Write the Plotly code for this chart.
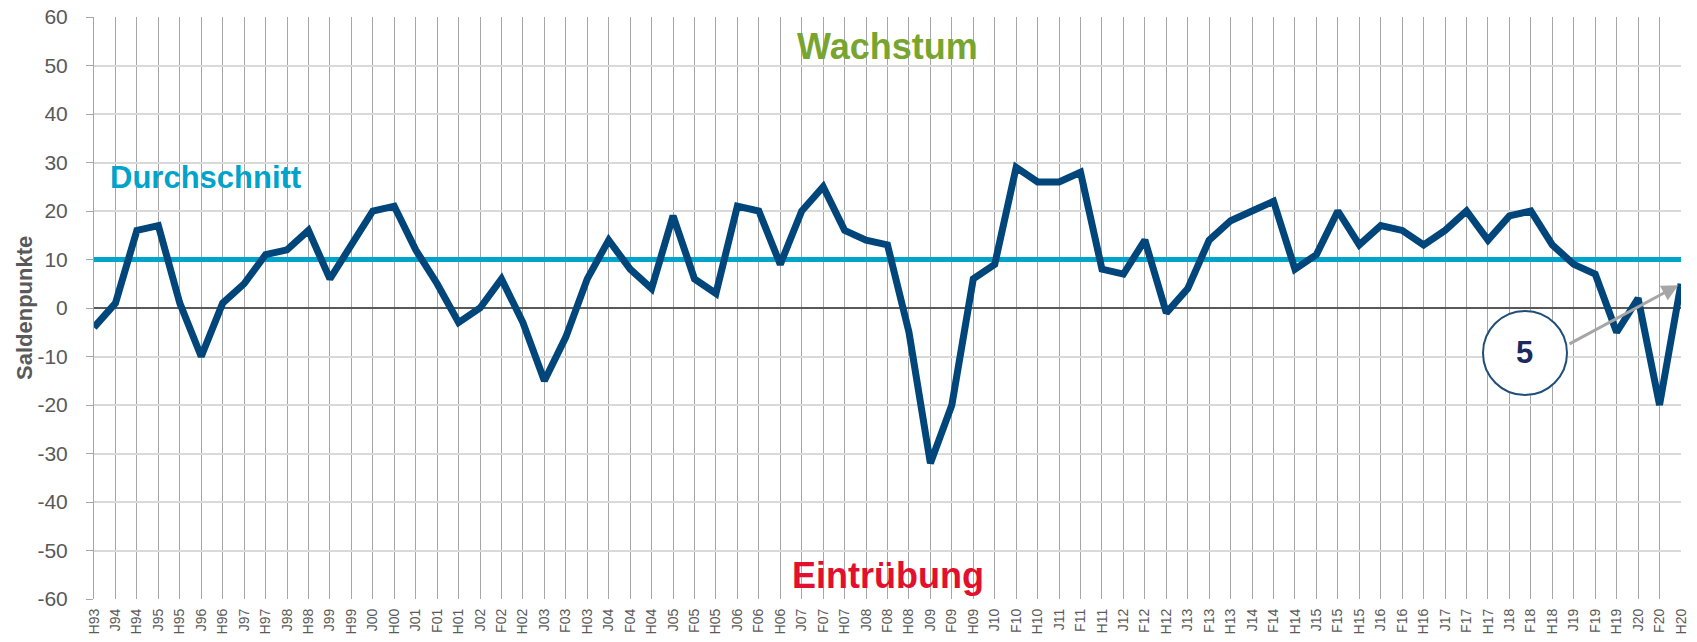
import plotly.graph_objects as go

# ---- data ----
categories = [
    "H93", "J94", "H94", "J95", "H95", "J96", "H96", "J97", "H97", "J98", "H98", "J99", "H99",
    "J00", "H00", "J01", "F01", "H01", "J02", "F02", "H02", "J03", "F03", "H03", "J04", "F04",
    "H04", "J05", "F05", "H05", "J06", "F06", "H06", "J07", "F07", "H07", "J08", "F08", "H08",
    "J09", "F09", "H09", "J10", "F10", "H10", "J11", "F11", "H11", "J12", "F12", "H12", "J13",
    "F13", "H13", "J14", "F14", "H14", "J15", "F15", "H15", "J16", "F16", "H16", "J17", "F17",
    "H17", "J18", "F18", "H18", "J19", "F19", "H19", "J20", "F20", "H20",
]
saldenpunkte = [
    -4, 1, 16, 17, 1, -10, 1, 5, 11, 12, 16, 6, 13,
    20, 21, 12, 5, -3, 0, 6, -3, -15, -6, 6, 14, 8,
    4, 19, 6, 3, 21, 20, 9, 20, 25, 16, 14, 13, -5,
    -32, -20, 6, 9, 29, 26, 26, 28, 8, 7, 14, -1, 4,
    14, 18, 20, 22, 8, 11, 20, 13, 17, 16, 13, 16, 20,
    14, 19, 20, 13, 9, 7, -5, 2, -20, 5,
]
durchschnitt_wert = 10
durchschnitt = [durchschnitt_wert] * len(categories)
y_ticks = [60, 50, 40, 30, 20, 10, 0, -10, -20, -30, -40, -50, -60]
y_ticktext = ["60", "50", "40", "30", "20", "10", "0", "-10", "-20", "-30", "-40", "-50", "-60"]
letzter_wert_label = "5"

FONT = "Liberation Sans, Arial, sans-serif"
GREY_TXT = "#595959"

fig = go.Figure()
fig.add_trace(go.Scatter(
    x=categories, y=durchschnitt, mode="lines",
    line=dict(color="#00A3CA", width=5), hoverinfo="skip", showlegend=False,
))
fig.add_trace(go.Scatter(
    x=categories, y=saldenpunkte, mode="lines",
    line=dict(color="#00467A", width=7), showlegend=False,
))

fig.update_layout(
    width=1697, height=642,
    margin=dict(l=94, r=16, t=17, b=43, autoexpand=False),
    paper_bgcolor="white", plot_bgcolor="white",
    font=dict(family=FONT, color=GREY_TXT),
    xaxis=dict(
        type="category", range=[0, len(categories) - 1], automargin=False,
        showgrid=True, gridcolor="#A6A6A6", gridwidth=1,
        tickangle=-90, tickfont=dict(size=14, color=GREY_TXT),
        ticks="", showline=False, zeroline=False,
        ticklabelstandoff=6,
    ),
    yaxis=dict(
        range=[-60, 60], tickvals=y_ticks, ticktext=y_ticktext, automargin=False,
        showgrid=True, gridcolor="#D9D9D9", gridwidth=1.5,
        zeroline=True, zerolinecolor="#595959", zerolinewidth=2,
        ticks="outside", ticklen=7, tickcolor="#A6A6A6",
        showline=True, linecolor="#A6A6A6", linewidth=1,
        tickfont=dict(size=21, color=GREY_TXT),
        ticklabelstandoff=14,
    ),
)

# Axis title
fig.add_annotation(xref="paper", yref="paper", x=-70 / 1587, y=0.5, text="<b>Saldenpunkte</b>",
                   textangle=-90, showarrow=False, font=dict(size=22, color=GREY_TXT),
                   xanchor="center", yanchor="middle")

# Text labels
fig.add_annotation(xref="paper", yref="y", x=0.5, y=54, text="<b>Wachstum</b>",
                   showarrow=False, font=dict(size=36, color="#77A52F"),
                   xanchor="center", yanchor="middle")
fig.add_annotation(xref="paper", yref="y", x=0.5, y=-55.2, text="<b>Eintrübung</b>",
                   showarrow=False, font=dict(size=36, color="#E2102E"),
                   xanchor="center", yanchor="middle")
fig.add_annotation(xref="paper", yref="y", x=0.0088, y=27, text="<b>Durchschnitt</b>",
                   showarrow=False, font=dict(size=31, color="#00A3CA"),
                   xanchor="left", yanchor="middle")

# Arrow to last value
fig.add_annotation(x=categories[-1], y=saldenpunkte[-1], xref="x", yref="y",
                   ax=-113, ay=61, text="", showarrow=True,
                   arrowhead=2, arrowsize=1.1, arrowwidth=3, arrowcolor="#A6A6A6", standoff=3)

# Circle with last value
cx, cy = 0.9017, 0.4227
fig.add_shape(type="circle", xref="paper", yref="paper",
              xsizemode="pixel", ysizemode="pixel", xanchor=cx, yanchor=cy,
              x0=-42, x1=42, y0=-42, y1=42,
              line=dict(color="#1F4E79", width=2), fillcolor="white", layer="above")
fig.add_annotation(xref="paper", yref="paper", x=cx, y=cy, text="<b>" + letzter_wert_label + "</b>",
                   showarrow=False, font=dict(size=31, color="#1B2A5C"),
                   xanchor="center", yanchor="middle")

fig.write_html("out.html", config={"displayModeBar": False},
               post_script="document.body.style.margin='0';document.body.style.overflow='hidden';")
